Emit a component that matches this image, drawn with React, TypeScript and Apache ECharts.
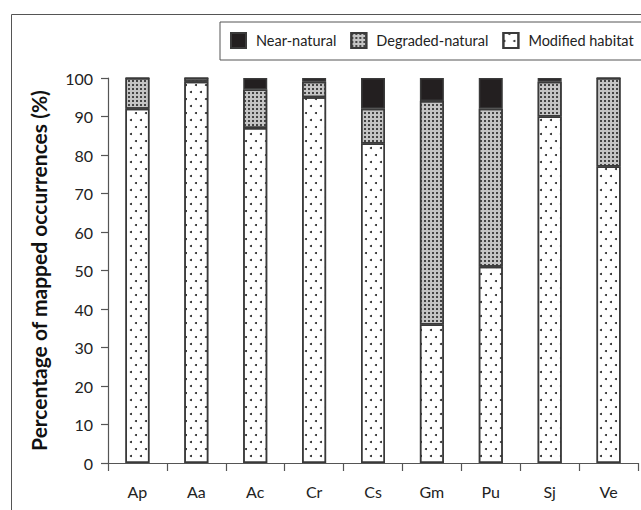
import React, { useEffect, useRef } from "react";
import * as echarts from "echarts";

const categories = ["Ap", "Aa", "Ac", "Cr", "Cs", "Gm", "Pu", "Sj", "Ve"];
const modifiedHabitat = [92, 99, 87, 95, 83, 36, 51, 90, 77];
const degradedNatural = [8, 1, 10, 4, 9, 58, 41, 9, 23];
const nearNatural = [0, 0, 3, 1, 8, 6, 8, 1, 0];
const yTicks = { min: 0, max: 100, interval: 10 };
const legendNames = ["Near-natural", "Degraded-natural", "Modified habitat"];
const yTitle = "Percentage of mapped occurrences (%)";

const FONT = "Lato, 'Open Sans', sans-serif";

export default function App() {
  const ref = useRef<HTMLDivElement>(null);
  useEffect(() => {
    if (!ref.current) return;
    const chart = echarts.init(ref.current, undefined, { renderer: "svg" });
    const border = { borderColor: "#3a3a3a", borderWidth: 1.5 };
    chart.setOption({
      animation: false,
      backgroundColor: "#ffffff",
      textStyle: { fontFamily: FONT },
      graphic: [
        {
          type: "rect",
          shape: { x: 11.5, y: 14.5, width: 700, height: 600 },
          style: { fill: "none", stroke: "#555", lineWidth: 1 },
          silent: true,
        },
      ],
      legend: {
        data: legendNames,
        left: 220,
        top: 22,
        width: 600,
        orient: "horizontal",
        icon: "rect",
        itemWidth: 15,
        itemHeight: 15,
        itemGap: 14,
        padding: [10, 40, 11, 10],
        borderColor: "#555",
        borderWidth: 1,
        textStyle: {
          fontFamily: FONT,
          fontSize: 14.5,
          color: "#222",
          padding: [0, 0, 0, 5],
        },
      },
      grid: { left: 108, right: 3, top: 78, bottom: 47, containLabel: false },
      xAxis: {
        type: "category",
        data: categories,
        boundaryGap: true,
        axisLine: { show: true, lineStyle: { color: "#555", width: 1.2 } },
        axisTick: {
          show: true,
          alignWithLabel: false,
          length: 8,
          lineStyle: { color: "#555", width: 1.2 },
        },
        axisLabel: {
          fontFamily: FONT,
          fontSize: 16,
          color: "#222",
          margin: 20,
        },
      },
      yAxis: {
        type: "value",
        min: yTicks.min,
        max: yTicks.max,
        interval: yTicks.interval,
        name: yTitle,
        nameLocation: "middle",
        nameGap: 59,
        nameTextStyle: {
          fontFamily: FONT,
          fontSize: 21,
          fontWeight: "bold",
          color: "#111",
        },
        splitLine: { show: false },
        axisLine: { show: true, lineStyle: { color: "#555", width: 1.2 } },
        axisTick: {
          show: true,
          inside: false,
          length: 7,
          lineStyle: { color: "#555", width: 1.2 },
        },
        axisLabel: {
          fontFamily: FONT,
          fontSize: 16,
          color: "#222",
          margin: 15,
        },
      },
      series: [
        {
          name: "Modified habitat",
          type: "bar",
          stack: "total",
          barWidth: 24,
          data: modifiedHabitat,
          itemStyle: {
            color: "#ffffff",
            ...border,
            decal: {
              symbol: "circle",
              symbolSize: 1,
              color: "#222",
              dashArrayX: [
                [1.6, 7.4],
                [0, 4.5, 1.6, 2.9],
              ],
              dashArrayY: [1.6, 4.4],
            },
          },
        },
        {
          name: "Degraded-natural",
          type: "bar",
          stack: "total",
          barWidth: 24,
          data: degradedNatural,
          itemStyle: {
            color: "#c4c4c4",
            ...border,
            decal: {
              symbol: "rect",
              symbolSize: 1,
              color: "#444",
              dashArrayX: [1.2, 1.3],
              dashArrayY: [1.2, 1.3],
            },
          },
        },
        {
          name: "Near-natural",
          type: "bar",
          stack: "total",
          barWidth: 24,
          data: nearNatural,
          itemStyle: { color: "#231f20", ...border, decal: "none" },
        },
      ],
    });
    return () => chart.dispose();
  }, []);
  return <div ref={ref} style={{ width: 641, height: 510, position: "absolute", left: 0, top: 0 }} />;
}
